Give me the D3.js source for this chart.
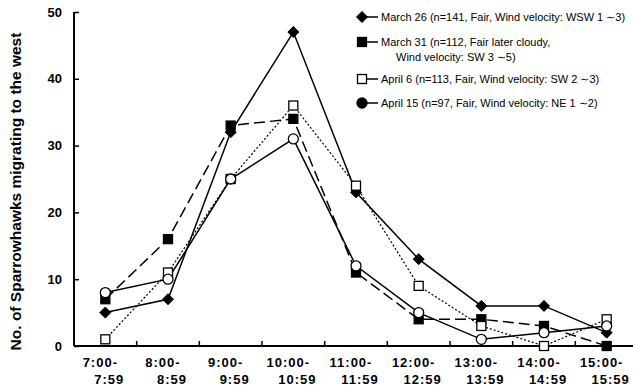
<!DOCTYPE html>
<html>
<head>
<meta charset="utf-8">
<script src="https://cdn.jsdelivr.net/npm/d3@7"></script>
<style>
  body { margin: 0; background: #fff; }
  svg { display: block; font-family: "Liberation Sans", Arial, sans-serif; }
</style>
</head>
<body>
<svg id="chart" width="633" height="389"></svg>
<script>
// time slots (two-line labels)
const hours = ['7:00-', '8:00-', '9:00-', '10:00-', '11:00-', '12:00-', '13:00-', '14:00-', '15:00-'];
const hourEnds = ['7:59', '8:59', '9:59', '10:59', '11:59', '12:59', '13:59', '14:59', '15:59'];
const yTicks = [0, 10, 20, 30, 40, 50];

const march26 = [5, 7, 32, 47, 23, 13, 6, 6, 2];
const march31 = [7, 16, 33, 34, 11, 4, 4, 3, 0];
const april6 = [1, 11, 25, 36, 24, 9, 3, 0, 4];
const april15 = [8, 10, 25, 31, 12, 5, 1, 2, 3];

const seriesNames = [
  ['March 26 (n=141, Fair, Wind velocity: WSW 1  ∼3)'],
  ['March 31 (n=112, Fair later cloudy,', 'Wind velocity: SW 3 ∼5)'],
  ['April 6 (n=113, Fair, Wind velocity: SW 2  ∼3)'],
  ['April 15 (n=97, Fair, Wind velocity: NE 1  ∼2)']
];

const series = [
  { name: seriesNames[0], values: march26, marker: 'diamond', fill: '#000', dash: null, width: 1.5 },
  { name: seriesNames[1], values: march31, marker: 'square', fill: '#000', dash: '11,5', width: 1.5 },
  { name: seriesNames[2], values: april6, marker: 'square', fill: '#fff', dash: '2,2', width: 1.2 },
  { name: seriesNames[3], values: april15, marker: 'circle', fill: '#fff', dash: null, width: 1.5, legendFill: '#000' }
];

const svg = d3.select('#chart');
const mLeft = 74, mTop = 12, mBottom = 346, mRight = 638;

const x = d3.scaleBand().domain(hours).range([mLeft, mRight]);
const y = d3.scaleLinear().domain([0, 50]).range([mBottom, mTop]);
const cx = (i) => x(hours[i]) + x.bandwidth() / 2;

function drawMarker(g, type, px, py, fill) {
  if (type === 'diamond') {
    g.append('path')
      .attr('d', `M${px},${py - 5.5}L${px + 5.5},${py}L${px},${py + 5.5}L${px - 5.5},${py}Z`)
      .attr('fill', fill).attr('stroke', '#000').attr('stroke-width', 1);
  } else if (type === 'square') {
    g.append('rect')
      .attr('x', px - 4.5).attr('y', py - 4.5).attr('width', 9).attr('height', 9)
      .attr('fill', fill).attr('stroke', '#000').attr('stroke-width', 1.3);
  } else {
    g.append('circle')
      .attr('cx', px).attr('cy', py).attr('r', 5)
      .attr('fill', fill).attr('stroke', '#000').attr('stroke-width', 1.3);
  }
}

// y axis
const yAxis = svg.append('g')
  .attr('transform', `translate(${mLeft},0)`)
  .call(d3.axisLeft(y).tickValues(yTicks).tickSize(-5).tickPadding(12));
yAxis.select('.domain').attr('stroke-width', 2).attr('d', `M0,${mTop}V${mBottom}`);
yAxis.selectAll('.tick line').attr('stroke-width', 1.5);
yAxis.selectAll('.tick text')
  .attr('font-size', 13).attr('font-weight', 'bold').attr('font-family', '"Liberation Sans", Arial, sans-serif');

// x axis line and boundary ticks
svg.append('line')
  .attr('x1', mLeft).attr('x2', 633).attr('y1', mBottom).attr('y2', mBottom)
  .attr('stroke', '#000').attr('stroke-width', 2);
svg.append('g').selectAll('line')
  .data(hours.slice(1))
  .join('line')
  .attr('x1', (d) => x(d)).attr('x2', (d) => x(d))
  .attr('y1', mBottom).attr('y2', mBottom - 5)
  .attr('stroke', '#000').attr('stroke-width', 1.5);

const xl = svg.append('g').selectAll('text')
  .data(hours)
  .join('text')
  .attr('font-size', 13).attr('font-weight', 'bold')
  .attr('text-anchor', 'middle')
  .style('letter-spacing', '1px');
xl.append('tspan').attr('x', (d, i) => cx(i) - 5).attr('y', 367).text((d) => d);
xl.append('tspan').attr('x', (d, i) => cx(i) + 4).attr('y', 384).text((d, i) => hourEnds[i]);

// y title
svg.append('text')
  .attr('transform', `translate(21,${(8 + 375) / 2}) rotate(-90)`)
  .attr('text-anchor', 'middle')
  .attr('font-size', 15.5).attr('font-weight', 'bold')
  .text('No. of Sparrowhawks migrating to the west');

// series lines and markers
const line = d3.line().x((d, i) => cx(i)).y((d) => y(d));
series.forEach((s) => {
  svg.append('path')
    .datum(s.values)
    .attr('d', line)
    .attr('fill', 'none')
    .attr('stroke', '#000')
    .attr('stroke-width', s.width)
    .attr('stroke-dasharray', s.dash);
});
series.forEach((s) => {
  const g = svg.append('g');
  s.values.forEach((v, i) => drawMarker(g, s.marker, cx(i), y(v), s.fill));
});

// legend
const legendRows = [17, 42, 79, 103];
series.forEach((s, k) => {
  const g = svg.append('g');
  const ly = legendRows[k];
  g.append('line').attr('x1', 362).attr('x2', 378).attr('y1', ly).attr('y2', ly)
    .attr('stroke', '#000').attr('stroke-width', 1.5);
  drawMarker(g, s.marker, 362, ly, s.legendFill || s.fill);
  s.name.forEach((t, j) => {
    g.append('text')
      .attr('x', j === 0 ? 381 : 396)
      .attr('y', ly + 4 + j * 15)
      .attr('font-size', 11)
      .text(t);
  });
});
</script>
</body>
</html>
